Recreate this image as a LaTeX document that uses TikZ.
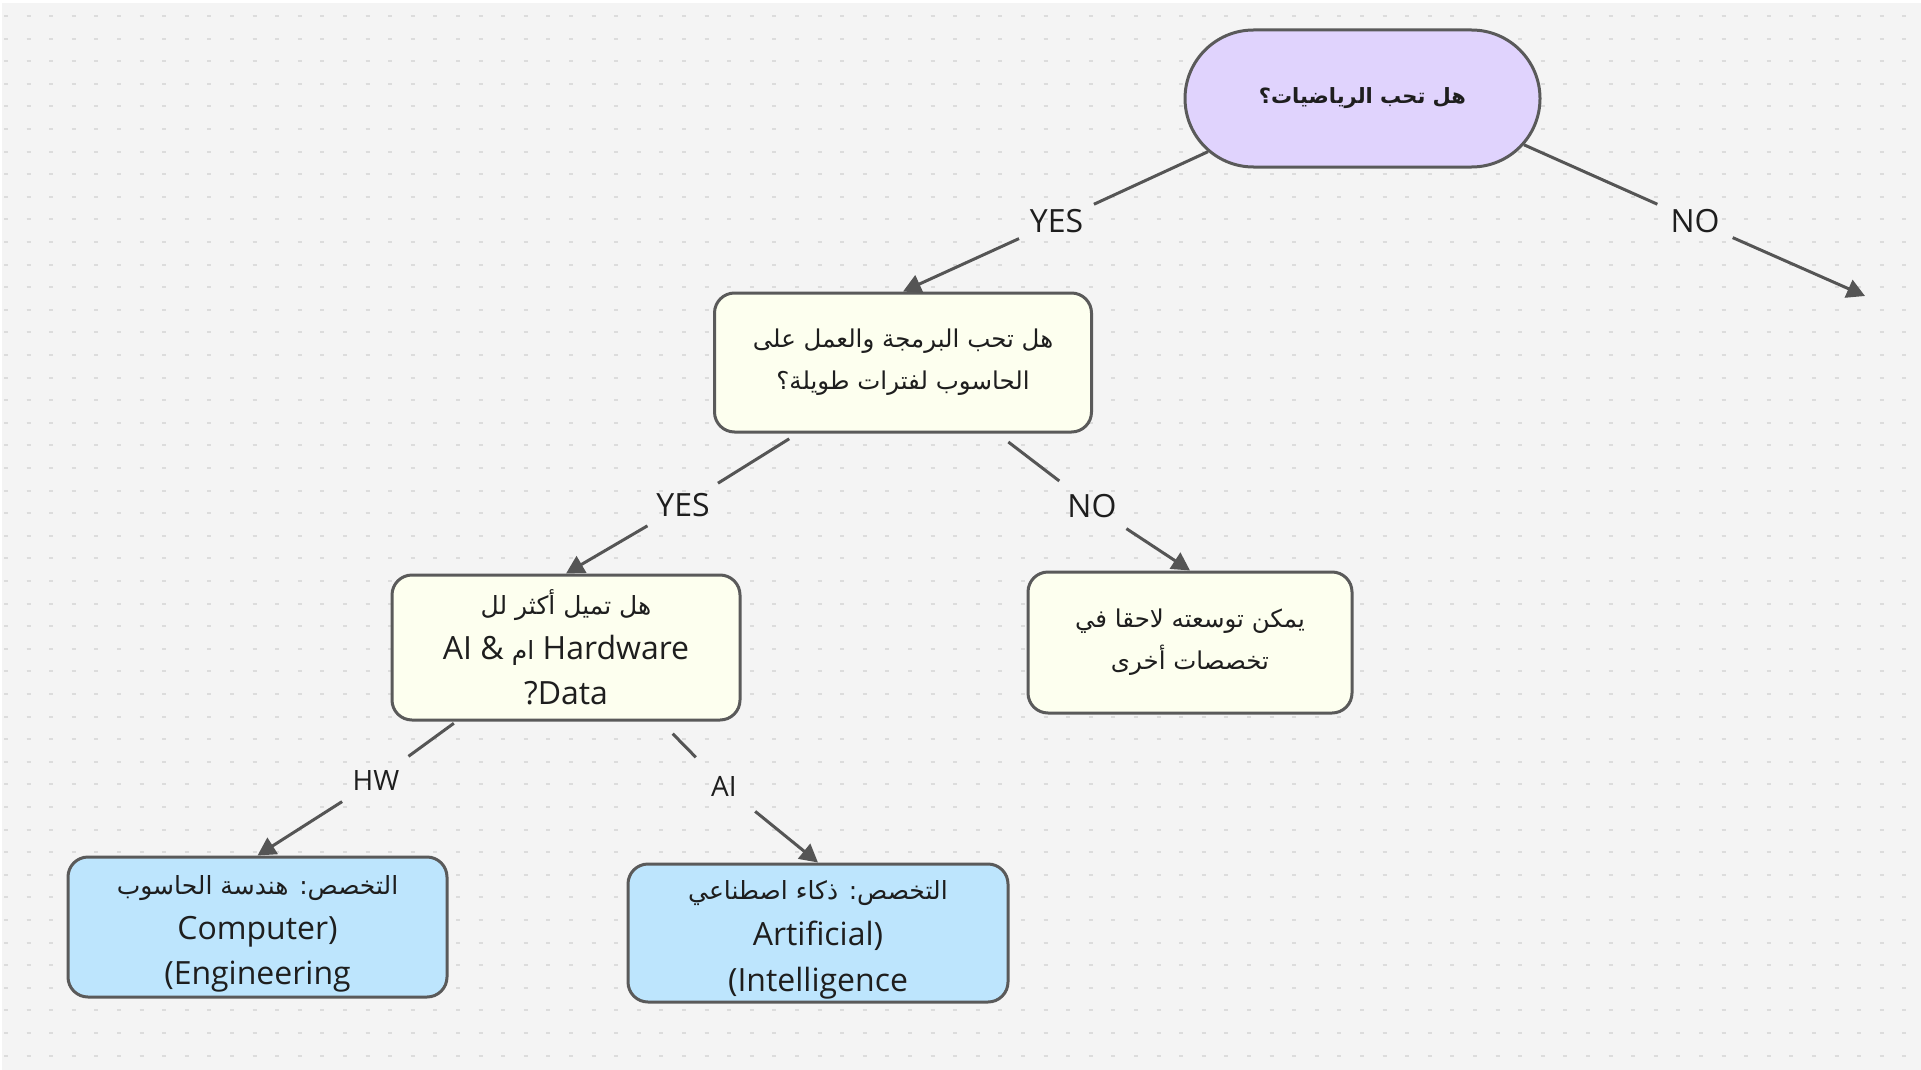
\documentclass[tikz,border=0pt]{standalone}
\usepackage{fontspec}
\setmainfont{Open Sans}
\newfontfamily\arabicfont[Script=Arabic]{DejaVu Sans}
\TeXXeTstate=1
\usetikzlibrary{arrows.meta,shapes.misc}
\definecolor{bgc}{HTML}{F4F4F4}
\definecolor{dotc}{HTML}{DCDCDC}
\definecolor{edgec}{HTML}{5A5A5A}
\definecolor{linec}{HTML}{555555}
\definecolor{txtc}{HTML}{1E1E1E}
\definecolor{lavc}{HTML}{E0D3FD}
\definecolor{ivoc}{HTML}{FDFFEF}
\definecolor{bluc}{HTML}{BDE5FD}
\tikzset{
  boxbase/.style={draw=edgec, line width=3pt, text=txtc, inner sep=0pt, align=center},
  startbox/.style={boxbase, rounded rectangle, fill=lavc},
  qbox/.style={boxbase, rectangle, rounded corners=20pt, fill=ivoc},
  resbox/.style={boxbase, rectangle, rounded corners=20pt, fill=bluc},
  lab/.style={circle, minimum size=82pt, inner sep=0pt, text=txtc, font=\fontsize{32}{38}\selectfont},
  slab/.style={lab, minimum size=80pt, font=\fontsize{28}{34}\selectfont},
  conn/.style={draw=linec, line width=3pt},
  arr/.style={conn, -{Triangle[length=18pt,width=19pt]}},
}
\newcommand{\ar}[1]{{\arabicfont\beginR #1\endR}}
\begin{document}
\begin{tikzpicture}[x=1pt,y=-1pt]
\useasboundingbox (0,0) rectangle (1921,1070);
\fill[white] (0,0) rectangle (1921,1070);
\fill[bgc] (2,3) rectangle (1921,1070);
\foreach \r in {0,...,46} {
  \draw[dotc, line width=2pt, dash pattern=on 4pt off 18.6pt] (4,{16+22.6*\r}) -- (1921,{16+22.6*\r});
}
% nodes
\node[startbox, minimum width=355pt, minimum height=137pt] (root) at (1362.5,98.5)
  {{\fontsize{21}{26}\selectfont\bfseries\ar{هل تحب الرياضيات؟}}};
\node[qbox, minimum width=377pt, minimum height=139pt, font=\fontsize{24.5}{42}\selectfont] (q2) at (903,362.5)
  {\ar{هل تحب البرمجة والعمل على}\\\ar{الحاسوب لفترات طويلة؟}};
\node[qbox, minimum width=348pt, minimum height=145pt, font=\fontsize{32}{45}\selectfont] (q3) at (566,647.5)
  {{\fontsize{25}{45}\selectfont\ar{هل تميل أكثر لل}}\\AI \& {\fontsize{25}{45}\selectfont\ar{ام}} Hardware\\?Data};
\node[qbox, minimum width=324pt, minimum height=141pt, font=\fontsize{24.5}{42}\selectfont] (nobox) at (1190,642.5)
  {\ar{يمكن توسعته لاحقا في}\\\ar{تخصصات أخرى}};
\node[resbox, minimum width=379pt, minimum height=140pt, font=\fontsize{32}{45}\selectfont] (ce) at (257.5,927)
  {{\fontsize{25}{45}\selectfont\ar{التخصص: هندسة الحاسوب}}\rule{0pt}{32pt}\\Computer)\\(Engineering};
\node[resbox, minimum width=380pt, minimum height=138pt, font=\fontsize{32}{46}\selectfont] (ai) at (818,933)
  {{\fontsize{25}{46}\selectfont\ar{التخصص: ذكاء اصطناعي}}\rule{0pt}{32pt}\\Artificial)\\(Intelligence};
% labels
\node[lab] (y1) at (1056.5,221.5) {YES};
\node[lab] (n1) at (1695,221) {NO};
\node[lab] (y2) at (683,505) {YES};
\node[lab] (n2) at (1092,506) {NO};
\node[slab] (hw) at (376,780) {HW};
\node[slab] (ail) at (724,786) {AI};
\coordinate (endpt) at (1865,296);
% connectors
\draw[conn] (root.199.5) -- (y1);
\draw[arr] (y1) -- (q2.north);
\draw[conn] (root.-16) -- (n1);
\draw[arr] (n1) -- (endpt);
\draw[conn, shorten <=10pt] (q2.214.7) -- (y2);
\draw[arr] (y2) -- (q3.north);
\draw[conn, shorten <=14pt] (q2.-37.3) -- (n2);
\draw[arr] (n2) -- (nobox.north);
\draw[conn, shorten <=3pt] (q3.214.9) -- (hw);
\draw[arr] (hw) -- (ce.north);
\draw[conn, shorten <=17pt] (q3.-38.2) -- (ail);
\draw[arr] (ail) -- (ai.north);
\end{tikzpicture}
\end{document}
